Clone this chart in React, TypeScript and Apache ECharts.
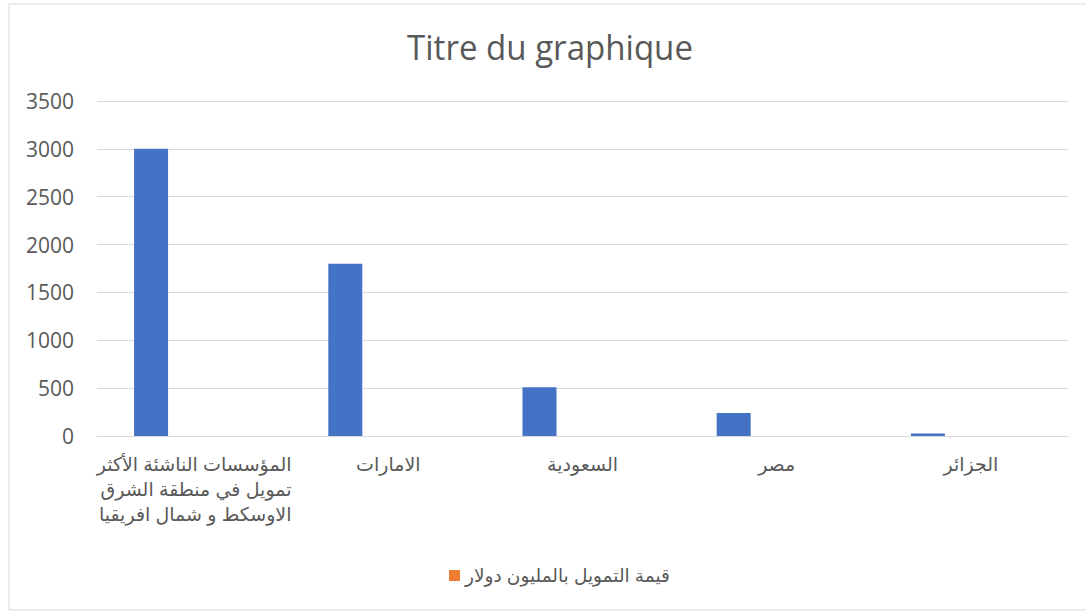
import React, { useEffect, useRef } from "react";
import * as echarts from "echarts";

const categories = [
  "المؤسسات الناشئة الأكثر\nتمويل في منطقة الشرق\nالاوسكط و شمال افريقيا",
  "الامارات",
  "السعودية",
  "مصر",
  "الجزائر",
];
const blueValues = [3000, 1800, 510, 240, 25];
const orangeValues = [0, 0, 0, 0, 0];
const legendName = "قيمة التمويل بالمليون دولار";
const titleText = "Titre du graphique";
const yTicks = { min: 0, max: 3500, interval: 500 };

export default function App() {
  const ref = useRef<HTMLDivElement>(null);
  useEffect(() => {
    if (!ref.current) return;
    const chart = echarts.init(ref.current, undefined, { renderer: "svg" });
    const labelFont = "Arial, 'Liberation Sans', 'DejaVu Sans', sans-serif";
    chart.setOption({
      animation: false,
      backgroundColor: "#ffffff",
      graphic: [
        {
          type: "rect",
          shape: { x: 9, y: 4, width: 1090, height: 606 },
          style: { fill: "none", stroke: "#d9d9d9", lineWidth: 1 },
          silent: true,
          z: -1,
        },
        {
          type: "text",
          x: 550,
          y: 29,
          scaleX: 0.945,
          silent: true,
          style: {
            text: titleText,
            x: 0,
            y: 0,
            align: "center",
            verticalAlign: "top",
            textAlign: "center",
            textVerticalAlign: "top",
            fontFamily: "'Open Sans', sans-serif",
            fontSize: 35,
            fill: "#595959",
          },
        },
      ],
      legend: {
        data: [legendName],
        left: 444,
        top: 561,
        icon: "rect",
        itemWidth: 11,
        itemHeight: 11,
        itemGap: 6,
        textStyle: { fontFamily: labelFont, fontSize: 18.5, color: "#595959" },
      },
      grid: { left: 97, right: 18, top: 101, bottom: 176 },
      xAxis: {
        type: "category",
        data: categories,
        axisLine: { lineStyle: { color: "#d9d9d9", width: 1 } },
        axisTick: { show: false },
        axisLabel: {
          interval: 0,
          margin: 16,
          color: "#595959",
          fontFamily: labelFont,
          fontSize: 19,
          lineHeight: 25,
          formatter: (v: string) =>
            v
              .split("\n")
              .map((l) => "{r|" + l + "}")
              .join("\n"),
          rich: {
            r: {
              align: "right",
              fontFamily: labelFont,
              fontSize: 19,
              lineHeight: 25,
              color: "#595959",
            },
          },
        },
      },
      yAxis: {
        type: "value",
        min: yTicks.min,
        max: yTicks.max,
        interval: yTicks.interval,
        axisLine: { show: false },
        axisTick: { show: false },
        splitLine: { lineStyle: { color: "#d9d9d9", width: 1 } },
        axisLabel: {
          margin: 23,
          color: "#595959",
          fontFamily: "'Open Sans', sans-serif",
          fontSize: 21,
          formatter: (v: number) => String(v),
        },
      },
      series: [
        {
          name: "blue",
          type: "bar",
          data: blueValues,
          barWidth: 34,
          barGap: "153%",
          itemStyle: { color: "#4472C4" },
        },
        {
          name: legendName,
          type: "bar",
          data: orangeValues,
          barWidth: 34,
          itemStyle: { color: "#ED7D31" },
        },
      ],
    });
    return () => chart.dispose();
  }, []);
  return (
    <div
      ref={ref}
      style={{ position: "fixed", left: 0, top: 0, width: 1086, height: 612 }}
    />
  );
}
